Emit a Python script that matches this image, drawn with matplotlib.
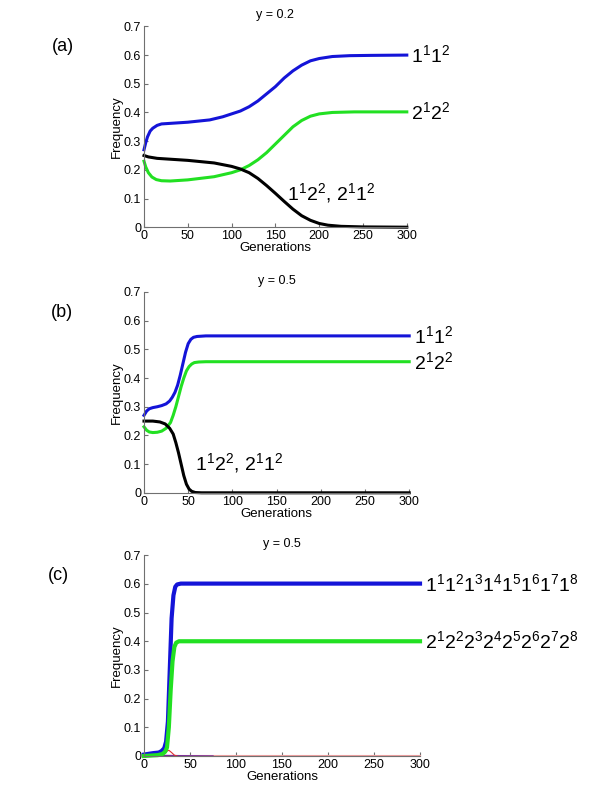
import matplotlib
matplotlib.use('Agg')
from matplotlib import pyplot as plt

plt.rcParams['font.family'] = ['Liberation Sans', 'DejaVu Sans']
plt.rcParams['mathtext.fontset'] = 'custom'
plt.rcParams['mathtext.rm'] = 'Liberation Sans'
plt.rcParams['mathtext.it'] = 'Liberation Sans'

blue = '#1414d8'
green = '#22e022'

# panel (a), y = 0.2
gen_a = [0, 2, 4, 7, 10, 15, 20, 30, 50, 75, 90, 100, 110, 120, 130, 140, 150,
         160, 170, 180, 190, 200, 215, 235, 260, 300]
blue_a = [0.27, 0.295, 0.315, 0.335, 0.345, 0.355, 0.36, 0.362, 0.366, 0.374,
          0.385, 0.395, 0.405, 0.42, 0.44, 0.465, 0.49, 0.52, 0.545, 0.565,
          0.58, 0.588, 0.595, 0.598, 0.599, 0.6]
gen_a_g = [0, 2, 5, 9, 14, 20, 30, 50, 80, 100, 110, 120, 130, 140, 150, 160,
           170, 180, 190, 200, 215, 240, 300]
green_a = [0.23, 0.21, 0.19, 0.175, 0.166, 0.162, 0.161, 0.165, 0.176, 0.19,
           0.2, 0.215, 0.235, 0.26, 0.29, 0.32, 0.35, 0.372, 0.387, 0.395,
           0.4, 0.402, 0.402]
gen_a_k = [0, 5, 15, 30, 50, 80, 100, 110, 120, 130, 140, 150, 160, 170, 180,
           190, 200, 210, 225, 250, 300]
black_a = [0.25, 0.245, 0.24, 0.237, 0.233, 0.224, 0.212, 0.203, 0.19, 0.17,
           0.145, 0.118, 0.09, 0.063, 0.04, 0.024, 0.013, 0.007, 0.003, 0.001, 0.0]

# panel (b), y = 0.5
gen_b = [0, 3, 6, 10, 15, 20, 25, 29, 32, 35, 38, 41, 44, 47, 50, 53, 56, 60,
         70, 300]
blue_b = [0.27, 0.285, 0.293, 0.297, 0.3, 0.304, 0.31, 0.32, 0.333, 0.35, 0.375,
          0.41, 0.45, 0.49, 0.52, 0.535, 0.542, 0.545, 0.547, 0.547]
gen_b_g = [0, 3, 6, 10, 15, 20, 25, 30, 33, 36, 39, 42, 45, 48, 51, 54, 57, 62,
           70, 300]
green_b = [0.23, 0.218, 0.212, 0.21, 0.211, 0.215, 0.225, 0.245, 0.27, 0.3,
           0.335, 0.37, 0.4, 0.425, 0.44, 0.449, 0.454, 0.456, 0.457, 0.457]
gen_b_k = [0, 10, 18, 24, 29, 33, 36, 39, 42, 45, 48, 51, 54, 58, 65, 300]
black_b = [0.25, 0.25, 0.247, 0.24, 0.225, 0.205, 0.175, 0.14, 0.1, 0.06, 0.03,
           0.013, 0.005, 0.001, 0.0, 0.0]

# panel (c), y = 0.5
gen_c = [0, 10, 16, 19, 22, 24, 26, 28, 30, 32, 34, 36, 40, 300]
blue_c = [0.005, 0.01, 0.012, 0.017, 0.027, 0.05, 0.12, 0.3, 0.48, 0.56, 0.59,
          0.598, 0.601, 0.601]
gen_c_g = [0, 15, 20, 23, 25, 27, 29, 31, 33, 35, 38, 300]
green_c = [0.0, 0.003, 0.007, 0.015, 0.03, 0.1, 0.23, 0.33, 0.38, 0.395, 0.4, 0.4]
gen_c_r = [18, 22, 25, 27, 30, 33, 36]
red_c = [0.0, 0.008, 0.017, 0.02, 0.012, 0.003, 0.0]
gen_c_p = [0, 20, 40, 75]
purple_c = [0.002, 0.002, 0.001, 0.0]
gen_c_pink = [25, 300]
pink_c = [0.0, 0.0]

lab_11 = r'$\mathrm{1^{1}1^{2}}$'
lab_22 = r'$\mathrm{2^{1}2^{2}}$'
lab_mix = r'$\mathrm{1^{1}2^{2},\,2^{1}1^{2}}$'
lab_c1 = r'$\mathrm{1^{1}1^{2}1^{3}1^{4}1^{5}1^{6}1^{7}1^{8}}$'
lab_c2 = r'$\mathrm{2^{1}2^{2}2^{3}2^{4}2^{5}2^{6}2^{7}2^{8}}$'


def style(ax, title, letter):
    ax.set_xlim(0, 300)
    ax.set_ylim(0, 0.7)
    ax.set_xticks(range(0, 301, 50))
    ax.set_yticks([0, 0.1, 0.2, 0.3, 0.4, 0.5, 0.6, 0.7])
    ax.set_yticklabels(['0', '0.1', '0.2', '0.3', '0.4', '0.5', '0.6', '0.7'])
    for s in ['top', 'right']:
        ax.spines[s].set_visible(False)
    for s in ['left', 'bottom']:
        ax.spines[s].set_color('#707070')
        ax.spines[s].set_linewidth(0.8)
    ax.tick_params(direction='in', length=3, width=0.8, color='#707070',
                   labelsize=9, pad=2)
    ax.set_xlabel('Generations', fontsize=9.5, labelpad=0)
    ax.set_ylabel('Frequency', fontsize=9.5, labelpad=1)
    ax.set_title(title, fontsize=9, pad=6)
    ax.text(-0.31, 0.9, letter, transform=ax.transAxes, fontsize=13,
            ha='center', va='center')


fig = plt.figure(figsize=(6, 8), dpi=100)

ax = fig.add_axes([0.240, 0.716, 0.438, 0.251])
ax.plot(gen_a, blue_a, color=blue, lw=2.2, clip_on=False)
ax.plot(gen_a_g, green_a, color=green, lw=2.2, clip_on=False)
ax.plot(gen_a_k, black_a, color='k', lw=2.2, clip_on=False)
ax.text(305, 0.6, lab_11, fontsize=14, va='center')
ax.text(305, 0.4, lab_22, fontsize=14, va='center')
ax.text(163, 0.12, lab_mix, fontsize=14, va='center')
style(ax, 'y = 0.2', '(a)')

ax = fig.add_axes([0.240, 0.384, 0.442, 0.251])
ax.plot(gen_b, blue_b, color=blue, lw=2.2, clip_on=False)
ax.plot(gen_b_g, green_b, color=green, lw=2.2, clip_on=False)
ax.plot(gen_b_k, black_b, color='k', lw=2.2, clip_on=False)
ax.text(305, 0.547, lab_11, fontsize=14, va='center')
ax.text(305, 0.455, lab_22, fontsize=14, va='center')
ax.text(58, 0.105, lab_mix, fontsize=14, va='center')
style(ax, 'y = 0.5', '(b)')

ax = fig.add_axes([0.240, 0.055, 0.46, 0.251])
ax.plot(gen_c_pink, pink_c, color='#f0a0a0', lw=1.5, clip_on=False)
ax.plot(gen_c_p, purple_c, color='#7a2a9a', lw=1.0, clip_on=False)
ax.plot(gen_c_r, red_c, color='#e03030', lw=0.8, clip_on=False)
ax.plot(gen_c, blue_c, color=blue, lw=3.0, clip_on=False)
ax.plot(gen_c_g, green_c, color=green, lw=3.0, clip_on=False)
ax.text(305, 0.6, lab_c1, fontsize=14, va='center')
ax.text(305, 0.4, lab_c2, fontsize=14, va='center')
style(ax, 'y = 0.5', '(c)')

fig.savefig('out.png', dpi=100)
